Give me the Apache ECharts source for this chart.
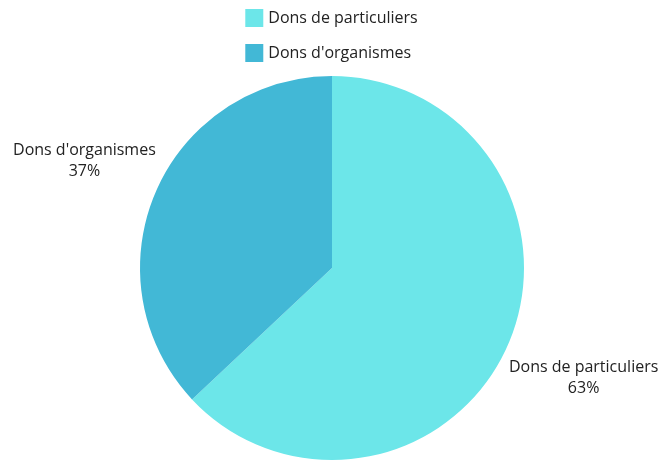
<!DOCTYPE html>
<html>
<head>
<meta charset="utf-8">
<script src="https://cdn.jsdelivr.net/npm/echarts@6/dist/echarts.min.js"></script>
<style>
  html, body { margin: 0; padding: 0; background: #fff; }
  #chart { width: 663px; height: 460px; }
</style>
</head>
<body>
<div id="chart"></div>
<script>
  var categories = ['Dons de particuliers', "Dons d'organismes"];
  var values = [63, 37];
  var colors = ['#6ce6e9', '#42b8d6'];

  var fontName = 'Open Sans';
  var fontSize = 16;
  var pieCenter = [332, 268];

  var mychar = echarts.init(document.getElementById('chart'));
  var option = {
    color: colors,
    animation: false,
    legend: {
      orient: 'vertical',
      left: 'center',
      top: 4,
      itemWidth: 18,
      itemHeight: 18,
      itemGap: 17,
      icon: 'rect',
      data: categories,
      textStyle: { fontFamily: fontName, fontSize: fontSize, color: '#222' }
    },
    series: [{
      name: 'Dons',
      type: 'pie',
      center: pieCenter,
      radius: 192,
      startAngle: 90,
      clockwise: true,
      data: categories.map(function (c, i) { return { name: c, value: values[i] }; }),
      label: {
        show: true,
        position: 'outside',
        overflow: 'none',
        distanceToLabelLine: 0,
        formatter: '{n|{b}}\n{p|{d}%}',
        rich: {
          n: { fontFamily: fontName, fontSize: fontSize, color: '#222', align: 'center', lineHeight: 21 },
          p: { fontFamily: fontName, fontSize: fontSize, color: '#222', align: 'center', lineHeight: 21 }
        }
      },
      labelLine: { show: false, length: 0, length2: 0 },
      labelLayout: function (params) {
        var cx = params.labelRect.x + params.labelRect.width / 2;
        return cx > pieCenter[0] ? { dx: 3, dy: 34 } : { dx: 0, dy: -31 };
      }
    }]
  };
  mychar.setOption(option);
</script>
</body>
</html>
